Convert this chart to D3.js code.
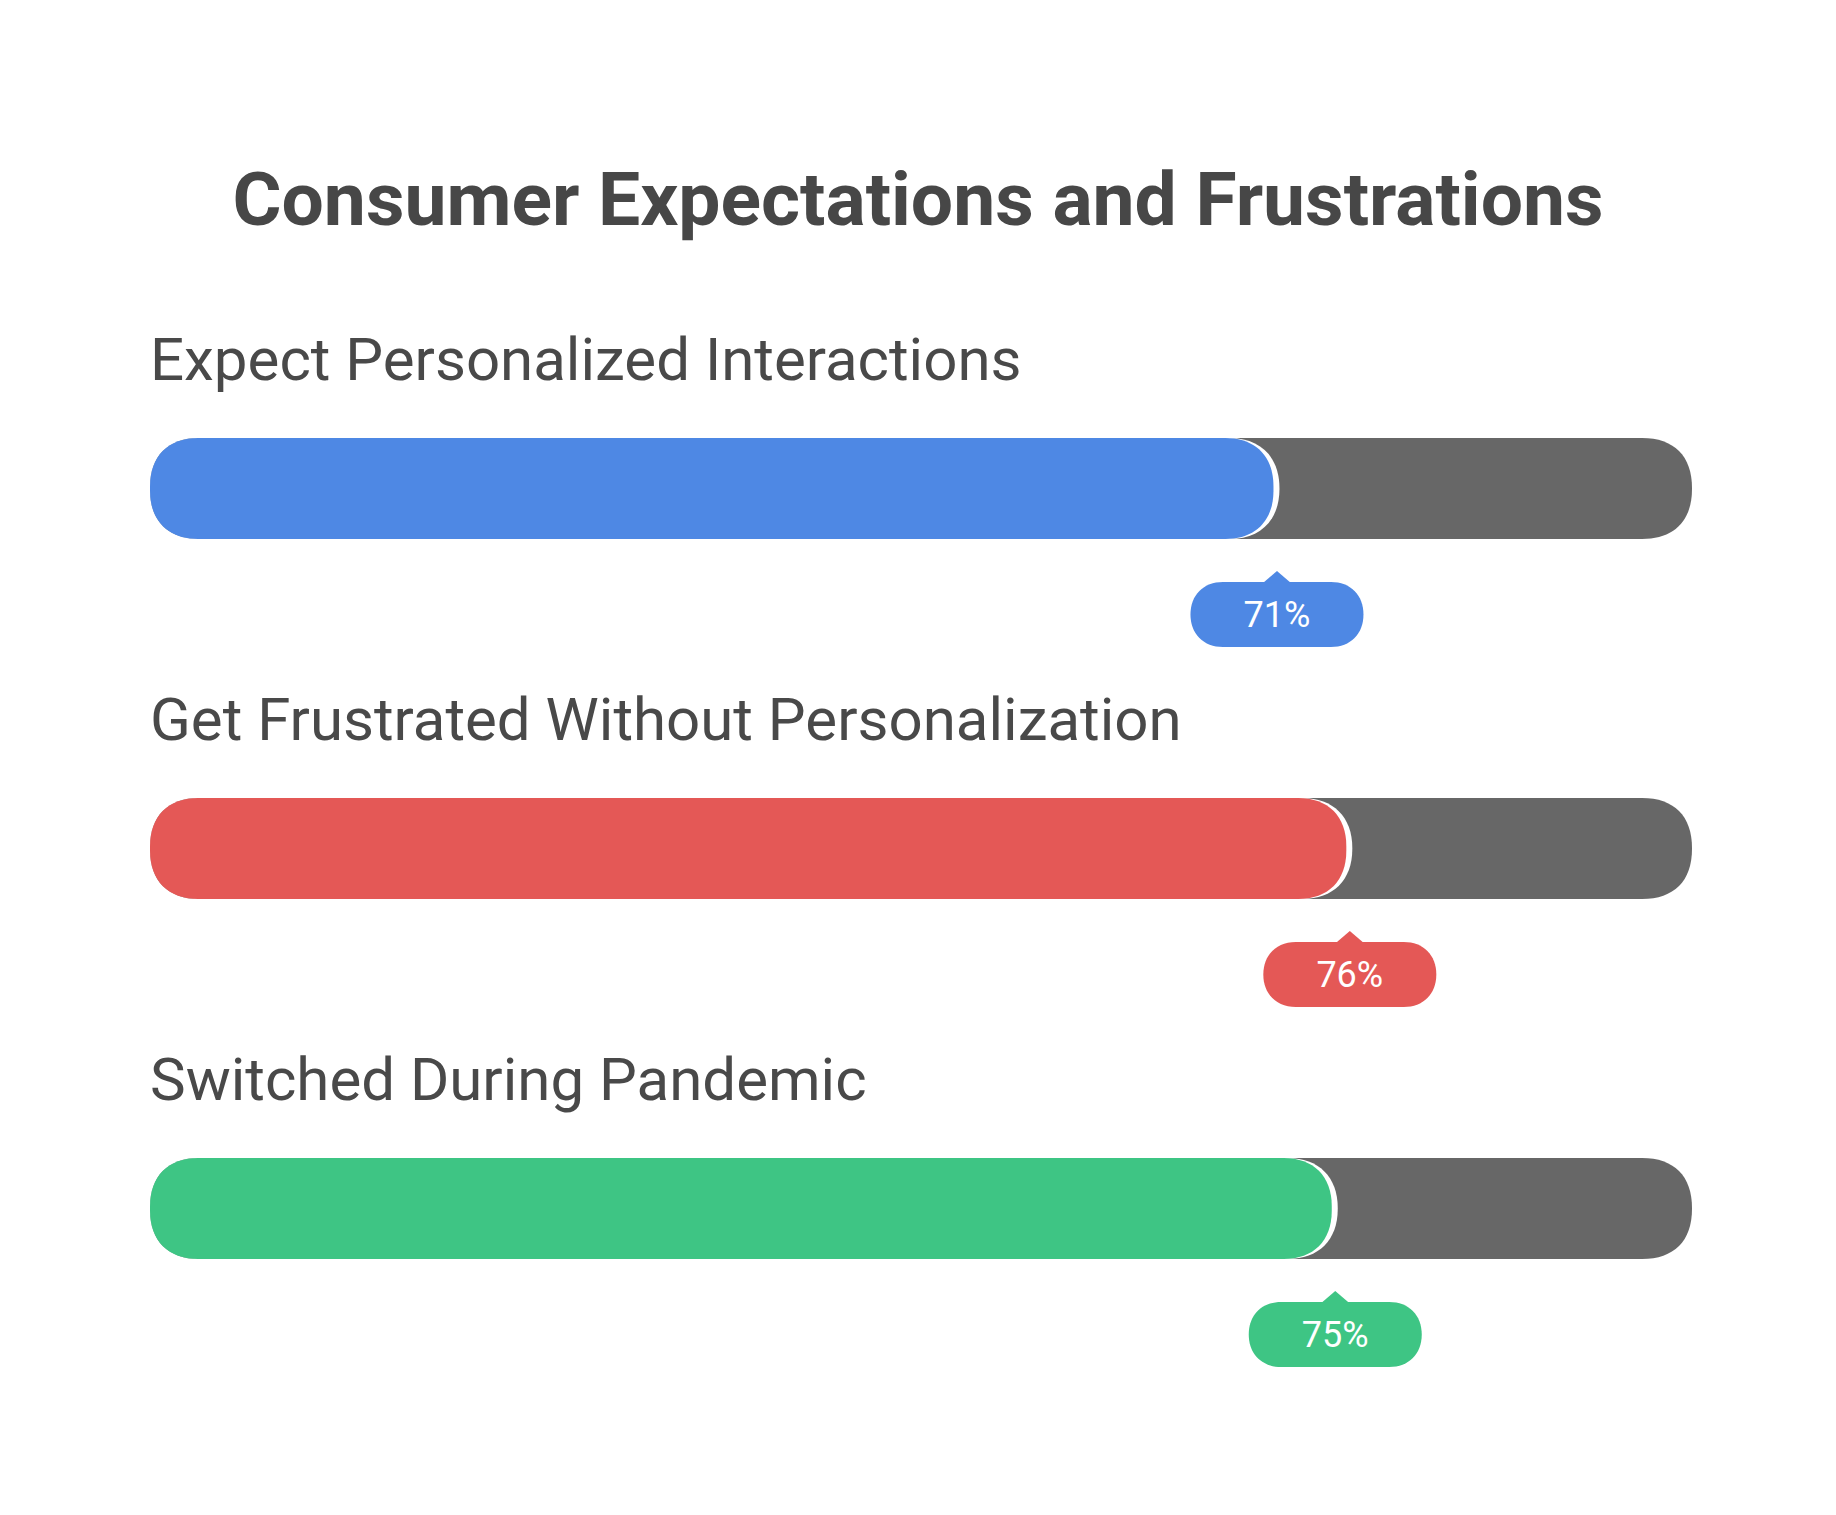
<!DOCTYPE html>
<html>
<head>
<meta charset="utf-8">
<script src="https://cdn.jsdelivr.net/npm/d3@7"></script>
<style>
  html, body { margin: 0; padding: 0; background: #ffffff; }
  svg { display: block; }
</style>
</head>
<body>
<script>
// ---- data ----
const title = "Consumer Expectations and Frustrations";
const categories = [
  "Expect Personalized Interactions",
  "Get Frustrated Without Personalization",
  "Switched During Pandemic"
];
const values = [71, 76, 75];
const valueLabels = ["71%", "76%", "75%"];
const colors = ["#4e88e4", "#e45856", "#3ec584"];

// ---- layout ----
const W = 1836, H = 1515;
const left = 150, trackRight = 1692;
const barH = 101, barR = 50;
const firstBarTop = 438, rowStep = 360;

const svg = d3.select("body").append("svg").attr("width", W).attr("height", H);

const x = d3.scaleLinear().domain([0, 100]).range([239, 1696]);
const y = d3.scaleBand().domain(categories).range([firstBarTop, firstBarTop + rowStep * categories.length]).paddingInner(0).paddingOuter(0);

// rounded horizontal bar path
function pill(x0, x1, y0, y1, r, k) {
  const ry = Math.min(r, (y1 - y0) / 2);
  const rx = Math.min(r, (x1 - x0) / 2);
  const kx = rx * k, ky = ry * k;
  const p = d3.path();
  p.moveTo(x0 + rx, y0);
  p.lineTo(x1 - rx, y0);
  p.bezierCurveTo(x1 - rx + kx, y0, x1, y0 + ry - ky, x1, y0 + ry);
  p.lineTo(x1, y1 - ry);
  p.bezierCurveTo(x1, y1 - ry + ky, x1 - rx + kx, y1, x1 - rx, y1);
  p.lineTo(x0 + rx, y1);
  p.bezierCurveTo(x0 + rx - kx, y1, x0, y1 - ry + ky, x0, y1 - ry);
  p.lineTo(x0, y0 + ry);
  p.bezierCurveTo(x0, y0 + ry - ky, x0 + rx - kx, y0, x0 + rx, y0);
  p.closePath();
  return p.toString();
}

svg.append("text")
  .attr("x", 918).attr("y", 225)
  .attr("text-anchor", "middle")
  .attr("font-family", "Roboto, sans-serif")
  .attr("font-weight", 700)
  .attr("font-size", 75)
  .attr("fill", "#474747")
  .text(title);

const rows = svg.selectAll("g.row")
  .data(categories.map((c, i) => ({ c, v: values[i], lab: valueLabels[i], col: colors[i] })))
  .join("g").attr("class", "row");

rows.append("text")
  .attr("x", left)
  .attr("y", d => y(d.c) - 58)
  .attr("font-family", "Roboto, sans-serif")
  .attr("font-size", 60)
  .attr("fill", "#494949")
  .text(d => d.c);

// track
rows.append("path")
  .attr("d", d => pill(left, trackRight, y(d.c), y(d.c) + barH, barR, 0.64))
  .attr("fill", "#676767");

// white halo
rows.append("path")
  .attr("d", d => pill(left, x(d.v) + 6, y(d.c), y(d.c) + barH, barR, 0.62))
  .attr("fill", "#ffffff");

// value bar
rows.append("path")
  .attr("d", d => pill(left, x(d.v), y(d.c), y(d.c) + barH, barR - 2, 0.62))
  .attr("fill", d => d.col);

// tooltip
const pw = 173, ph = 65;
rows.append("path")
  .attr("d", d => {
    const cx = x(d.v) + 3.5;
    const top = y(d.c) + barH + 43;
    return pill(cx - pw / 2, cx + pw / 2, top, top + ph, 32.5, 0.6);
  })
  .attr("fill", d => d.col);

rows.append("path")
  .attr("d", d => {
    const cx = x(d.v) + 3.5;
    const top = y(d.c) + barH + 43;
    return `M${cx - 14},${top + 1} L${cx},${top - 11} L${cx + 14},${top + 1} Z`;
  })
  .attr("fill", d => d.col);

rows.append("text")
  .attr("x", d => x(d.v) + 3.5)
  .attr("y", d => y(d.c) + barH + 43 + 45)
  .attr("text-anchor", "middle")
  .attr("font-family", "Roboto, sans-serif")
  .attr("font-weight", 400)
  .attr("font-size", 36)
  .attr("fill", "#ffffff")
  .text(d => d.lab);
</script>
</body>
</html>
